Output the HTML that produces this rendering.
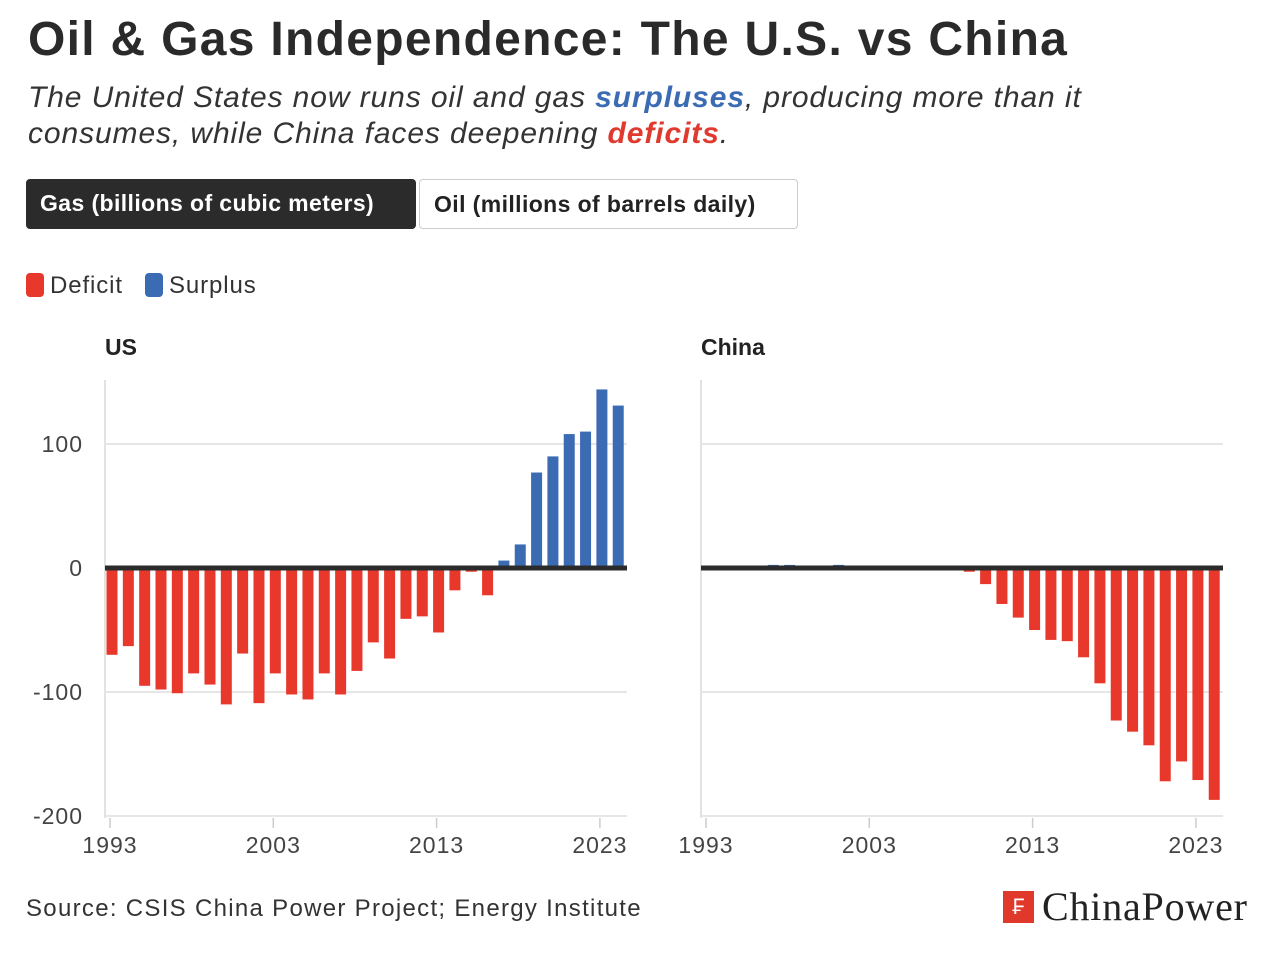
<!DOCTYPE html>
<html><head><meta charset="utf-8"><style>
body{margin:0;width:1280px;height:973px;background:#fff;font-family:"Liberation Sans",sans-serif;color:#222;position:relative;overflow:hidden}
.abs{position:absolute}
h1{position:absolute;left:28px;top:12px;margin:0;font-size:48px;font-weight:bold;color:#2a2a2a;letter-spacing:1.3px}
.sub{left:28px;top:80px;font-size:30px;font-style:italic;line-height:36px;color:#333;letter-spacing:0.9px}
.btn{top:179px;height:50px;box-sizing:border-box;border-radius:4px;font-size:23px;font-weight:bold;line-height:48px;padding:0 14px;letter-spacing:0.4px}
.leg{top:272px;font-size:24px;color:#333;letter-spacing:0.9px}
.sw{display:inline-block;width:18px;height:24px;border-radius:4px;vertical-align:-4px;margin-right:6px}
</style></head><body>
<h1>Oil &amp; Gas Independence: The U.S. vs China</h1>
<div class="abs sub">The United States now runs oil and gas <b style="color:#3b6cb3">surpluses</b>, producing more than it<br>consumes, while China faces deepening <b style="color:#e03a2e">deficits</b>.</div>
<div class="abs btn" style="left:26px;width:390px;background:#2b2b2b;color:#fff">Gas (billions of cubic meters)</div>
<div class="abs btn" style="left:419px;width:379px;border:1.5px solid #ccc;color:#222">Oil (millions of barrels daily)</div>
<div class="abs leg" style="left:26px"><span class="sw" style="background:#e8382c"></span>Deficit</div>
<div class="abs leg" style="left:145px"><span class="sw" style="background:#3b6cb3"></span>Surplus</div>
<svg class="abs" style="left:0;top:0" width="1280" height="973" id="chart"></svg>
<div class="abs" style="left:26px;top:895px;font-size:24px;color:#333;letter-spacing:1.3px">Source: CSIS China Power Project; Energy Institute</div>
<div class="abs" style="left:1003px;top:891px;width:31px;height:32px;background:#e0392c;color:#fff;font-size:22px;text-align:center;line-height:32px">₣</div>
<div class="abs" style="left:1042px;top:883px;font-family:'Liberation Serif',serif;font-size:40px;color:#222;letter-spacing:0.8px">ChinaPower</div>
<script>
const years=[];for(let y=1993;y<=2024;y++)years.push(y);
const usValues=[-70,-63,-95,-98,-101,-85,-94,-110,-69,-109,-85,-102,-106,-85,-102,-83,-60,-73,-41,-39,-52,-18,-3,-22,6,19,77,90,108,110,144,131];
const chinaValues=[0.5,0.5,0.5,2,2.5,2.5,2,2,2.5,2,1,1,1.5,0.5,0.5,0.5,-3,-13,-29,-40,-50,-58,-59,-72,-93,-123,-132,-143,-172,-156,-171,-187];
const yTicks=[100,0,-100,-200];
const xTicks=[1993,2003,2013,2023];
const NS='http://www.w3.org/2000/svg';
const svg=document.getElementById('chart');
function mk(t,a){const e=document.createElementNS(NS,t);for(const k in a)e.setAttribute(k,a[k]);svg.appendChild(e);return e;}
const yS=v=>568-v*1.24;
function panel(x0,x1,vals,name,title,showY){
  const xS=yr=>x0+7+(yr-1993)*16.33;
  const t=mk('text',{x:x0,y:355,'font-size':23,'font-weight':'bold',fill:'#222'});t.textContent=title;
  
  
  const ax=mk('line',{x1:x0,x2:x0,y1:380,y2:818,stroke:'#e2e2e2','stroke-width':2});
  
  
  yTicks.forEach(v=>{
    if(v!==0){const g=mk('line',{x1:x0,x2:x1,y1:yS(v),y2:yS(v),stroke:'#e6e6e6','stroke-width':2});
    
    }
    if(showY){const l=mk('text',{x:x0-22,y:yS(v)+8,'font-size':23,fill:'#444','text-anchor':'end','letter-spacing':1});l.textContent=v;
    
    }
  });
  vals.forEach((v,i)=>{
    const cx=xS(years[i]);const y0=yS(0),y1=yS(v);
    const r=mk('rect',{x:cx-5.5,y:Math.min(y0,y1),width:11,height:Math.abs(y1-y0),fill:v>=0?'#3b6cb3':'#e8382c'});
    
    
  });
  const z=mk('line',{x1:x0,x2:x1,y1:568,y2:568,stroke:'#2b2b2b','stroke-width':5});
  
  
  xTicks.forEach(yr=>{
    const tx=x0+5+(yr-1993)*16.33;
    const tk=mk('line',{x1:tx,x2:tx,y1:818,y2:828,stroke:'#ccc','stroke-width':1.5});
    
    
    const l=mk('text',{x:tx,y:853,'font-size':23,fill:'#444','text-anchor':'middle','letter-spacing':1});l.textContent=yr;
    
    
  });
}
panel(105,627,usValues,'us','US',true);
panel(701,1223,chinaValues,'china','China',false);
</script>
</body></html>
